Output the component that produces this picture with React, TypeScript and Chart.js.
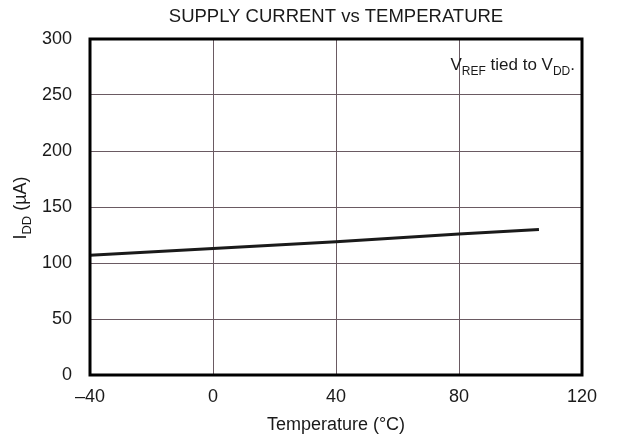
import React, { useEffect, useRef } from "react";
import { Chart, registerables } from "chart.js";

Chart.register(...registerables);

const chartTitle = "SUPPLY CURRENT vs TEMPERATURE";
const xAxisTitle = "Temperature (°C)";
const temperatures = [-40, 0, 40, 80, 106];
const supplyCurrent = [107, 113, 119, 126, 130];
const xTicks = [-40, 0, 40, 80, 120];
const yTicks = [0, 50, 100, 150, 200, 250, 300];

const FONT = "'Liberation Sans', Arial, sans-serif";
const INK = "#1a1a1a";
const GRID = "#6a5a62";

function drawSubText(ctx: CanvasRenderingContext2D, parts: { t: string; sub?: boolean }[], x: number, y: number, size: number, subSize: number, align: "left" | "right" | "center") {
  let total = 0;
  for (const p of parts) {
    ctx.font = `${p.sub ? subSize : size}px ${FONT}`;
    total += ctx.measureText(p.t).width;
  }
  let cx = align === "left" ? x : align === "right" ? x - total : x - total / 2;
  ctx.textAlign = "left";
  ctx.textBaseline = "alphabetic";
  for (const p of parts) {
    ctx.font = `${p.sub ? subSize : size}px ${FONT}`;
    ctx.fillText(p.t, cx, p.sub ? y + size * 0.28 : y);
    cx += ctx.measureText(p.t).width;
  }
}

const decorPlugin = {
  id: "decor",
  afterDatasetsDraw(chart: any) {
    const ctx = chart.ctx as CanvasRenderingContext2D;
    const a = chart.chartArea;
    ctx.save();
    ctx.strokeStyle = "#000";
    ctx.lineWidth = 3;
    ctx.strokeRect(a.left, a.top, a.right - a.left, a.bottom - a.top);

    ctx.fillStyle = INK;
    ctx.font = `18.5px ${FONT}`;
    ctx.textAlign = "center";
    ctx.textBaseline = "middle";
    ctx.fillText(chartTitle, (a.left + a.right) / 2 - 0, 17);

    drawSubText(
      ctx,
      [{ t: "V" }, { t: "REF", sub: true }, { t: " tied to V" }, { t: "DD", sub: true }, { t: "." }],
      a.right - 7,
      a.top + 31,
      17,
      12,
      "right"
    );

    ctx.save();
    ctx.translate(26, 208);
    ctx.rotate(-Math.PI / 2);
    drawSubText(ctx, [{ t: "I" }, { t: "DD", sub: true }, { t: " (µA)" }], 0, 0, 18, 13, "center");
    ctx.restore();
    ctx.restore();
  },
};

export default function App() {
  const ref = useRef<HTMLCanvasElement | null>(null);
  useEffect(() => {
    if (!ref.current) return;
    const chart = new Chart(ref.current, {
      type: "line",
      data: {
        datasets: [
          {
            data: temperatures.map((t, i) => ({ x: t, y: supplyCurrent[i] })),
            borderColor: INK,
            borderWidth: 3,
            pointRadius: 0,
            tension: 0,
          },
        ],
      },
      options: {
        responsive: false,
        animation: false,
        events: [],
        layout: { padding: { left: 0, top: 39, right: 35, bottom: 0 } },
        plugins: { legend: { display: false }, title: { display: false }, tooltip: { enabled: false } },
        scales: {
          x: {
            type: "linear",
            min: -40,
            max: 120,
            afterBuildTicks: (s: any) => {
              s.ticks = xTicks.map((v) => ({ value: v }));
            },
            afterFit: (s: any) => {
              s.height = 66;
            },
            grid: { color: GRID, lineWidth: 1, drawTicks: false },
            border: { display: false },
            ticks: {
              color: INK,
              font: { family: FONT, size: 18 },
              padding: 11,
              maxRotation: 0,
              callback: (v: any) => (v < 0 ? "\u2013" + Math.abs(v) : String(v)),
            },
            title: {
              display: true,
              text: xAxisTitle,
              color: INK,
              font: { family: FONT, size: 18 },
              padding: { top: 0, bottom: 5 },
            },
          },
          y: {
            type: "linear",
            min: 0,
            max: 300,
            afterBuildTicks: (s: any) => {
              s.ticks = yTicks.map((v) => ({ value: v }));
            },
            afterFit: (s: any) => {
              s.width = 90;
            },
            grid: { color: GRID, lineWidth: 1, drawTicks: false },
            border: { display: false },
            ticks: {
              color: INK,
              font: { family: FONT, size: 18 },
              padding: 18,
            },
          },
        },
      },
      plugins: [decorPlugin],
    } as any);
    return () => chart.destroy();
  }, []);
  return (
    <canvas
      ref={ref}
      width={617}
      height={441}
      style={{ position: "absolute", left: 0, top: 0, width: 617, height: 441, background: "#fff" }}
    />
  );
}
